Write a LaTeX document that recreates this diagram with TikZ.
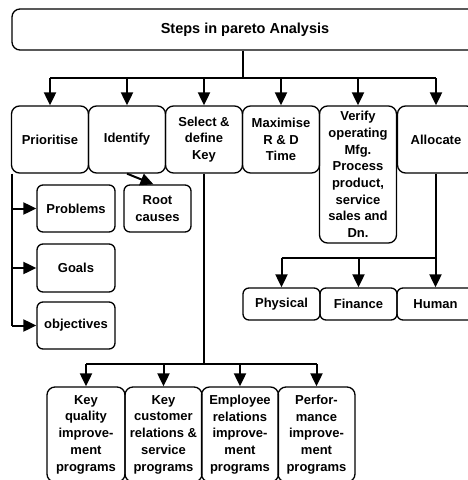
\documentclass[tikz,border=0pt]{standalone}
\usepackage{fontspec}
\setmainfont{Liberation Sans}
\usetikzlibrary{arrows.meta}
\begin{document}
\begin{tikzpicture}[x=1pt,y=-1pt,
  box/.style={draw, line width=1.3pt, rounded corners=8pt, align=center,
    inner sep=1pt, font=\bfseries\fontsize{13}{16.7}\selectfont},
  smallbox/.style={box, rounded corners=6pt},
  conn/.style={line width=2pt},
  arr/.style={conn, -{Triangle[width=12pt,length=13pt]}}]
\fill[white] (0,0) rectangle (467,480);
\useasboundingbox (0,0) rectangle (467,480);

% title
\node[box, minimum width=468pt, minimum height=41pt] (title) at (246,29.5) {};
\node[font=\bfseries\fontsize{14.5}{16}\selectfont] (titletext) at (245,29.5) {Steps in pareto Analysis};

% first row of steps
\node[box, minimum width=77pt, minimum height=67pt] (prio) at (50,139.5) {Prioritise};
\node[box, minimum width=77pt, minimum height=67pt] (ident) at (127,139.5) {Identify};
\node[box, minimum width=77pt, minimum height=67pt] (sel) at (204,139.5) {Select \&\\define\\Key};
\node[box, minimum width=77pt, minimum height=67pt] (maxi) at (281,139.5) {Maximise\\R \& D\\Time};
\node[box, minimum width=77pt, minimum height=137pt] (ver) at (358,174.5) {Verify\\operating\\Mfg.\\Process\\product,\\service\\sales and\\Dn.};
\node[box, minimum width=77pt, minimum height=67pt] (alloc) at (436,139.5) {Allocate};

\coordinate (hub) at (243,78);
\draw[conn] (title.south -| hub) -- (hub);
\draw[conn] (prio.north |- hub) -- (alloc.north |- hub);
\foreach \n in {prio,ident,sel,maxi,ver,alloc}
  \draw[arr] (\n.north |- hub) -- (\n.north);

% what to prioritise
\node[smallbox, minimum width=78pt, minimum height=47pt] (prob) at (76,208.5) {Problems};
\node[smallbox, minimum width=78pt, minimum height=48pt] (goals) at (76,268) {Goals};
\node[smallbox, minimum width=78pt, minimum height=47pt] (obj) at (76,325.5) {objectives};
\coordinate (pl) at ([xshift=1pt]prio.south west);
\draw[conn] (pl) -- (pl |- obj.west);
\foreach \n in {prob,goals,obj}
  \draw[arr] (pl |- \n.west) -- (\n.west);

% root causes
\node[smallbox, minimum width=67pt, minimum height=47pt] (root) at (157.5,208.5) {Root\\causes};
\draw[arr] (ident.south) -- ([xshift=-4pt]root.north);

% key programs
\node[box, minimum width=78pt, minimum height=95pt] (kq) at (86,434.5) {Key\\quality\\improve-\\ment\\programs};
\node[box, minimum width=77pt, minimum height=95pt] (kc) at (163.5,434.5) {Key\\customer\\relations \&\\service\\programs};
\node[box, minimum width=77pt, minimum height=95pt] (er) at (240,434.5) {Employee\\relations\\improve-\\ment\\programs};
\node[box, minimum width=77pt, minimum height=95pt] (pi) at (316.5,434.5) {Perfor-\\mance\\improve-\\ment\\programs};
\coordinate (khub) at (204,364);
\draw[conn] (sel.south) -- (khub);
\draw[conn] (kq.north |- khub) -- (pi.north |- khub);
\foreach \n in {kq,kc,er,pi}
  \draw[arr] (\n.north |- khub) -- (\n.north);

% resources
\node[smallbox, minimum width=77pt, minimum height=32pt] (phys) at (281.5,304) {Physical};
\node[smallbox, minimum width=77pt, minimum height=32pt] (fin) at (358.5,304) {Finance};
\node[smallbox, minimum width=77pt, minimum height=32pt] (hum) at (435.5,304) {Human};
\coordinate (ahub) at (436,258);
\draw[conn] (alloc.south) -- (ahub);
\draw[conn] (phys.north |- ahub) -- (ahub);
\foreach \n in {phys,fin,hum}
  \draw[arr] (\n.north |- ahub) -- (\n.north);
\end{tikzpicture}
\end{document}
